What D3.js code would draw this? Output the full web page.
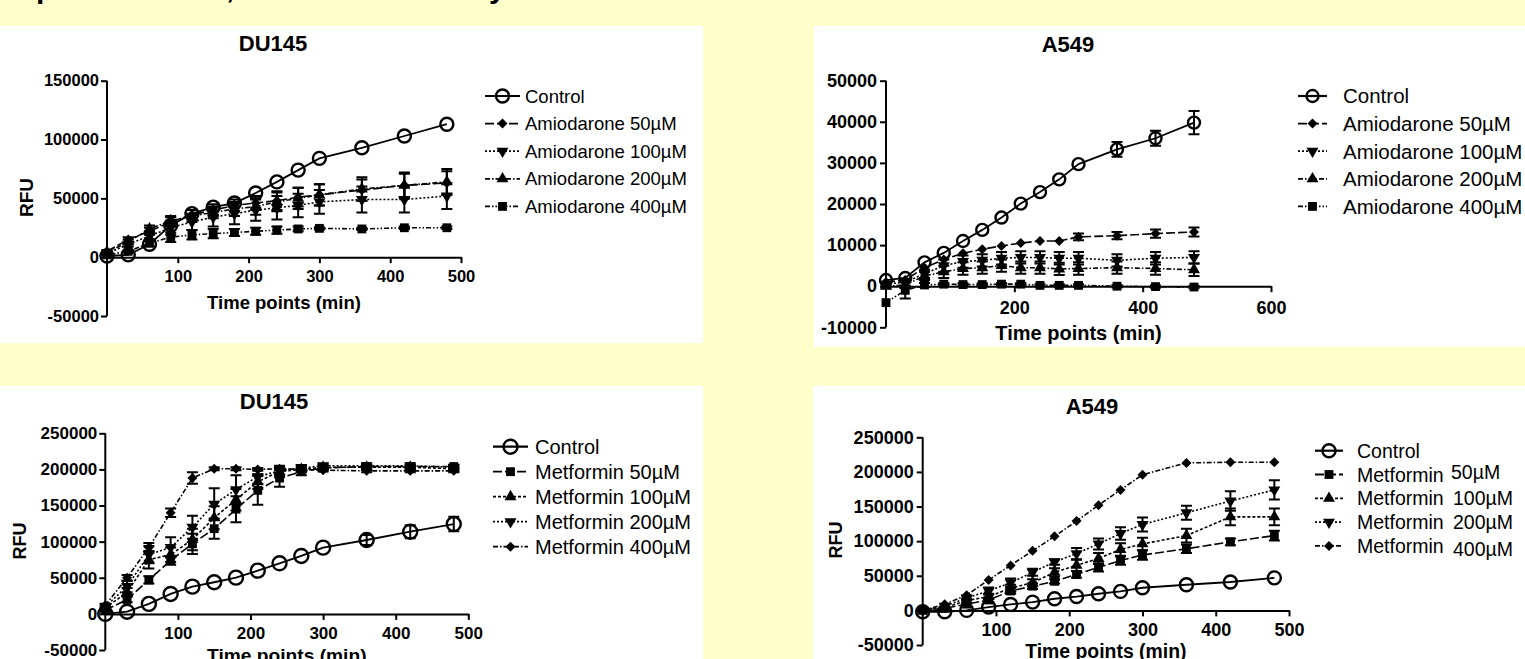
<!DOCTYPE html>
<html>
<head>
<meta charset="utf-8">
<script src="https://cdn.jsdelivr.net/npm/d3@7"></script>
<style>
    body { margin: 0; background: #ffffcc; overflow: hidden; }
    svg text { font-family: "Liberation Sans", Arial, sans-serif; fill: #000; }
</style>
</head>
<body>
<svg id="fig" width="1525" height="659"></svg>
<script>
"use strict";

//Sampling times (min), shared by every series
var times = [0, 30, 60, 90, 120, 150, 180, 210, 240, 270, 300, 360, 420, 480];

//DU145 + amiodarone
var duAmioCtrl = [1000, 2000, 11000, 27000, 37000, 42500, 46000, 54500, 64000, 74000, 84000, 93000, 103000, 113000];
var duAmio50   = [5000, 15000, 22000, 30000, 36000, 40000, 44000, 46000, 48000, 51000, 53000, 57000, 61000, 63000];
var duAmio100  = [3000, 11000, 18000, 25000, 30000, 34000, 37000, 40000, 42000, 44000, 47000, 49000, 49000, 52000];
var duAmio200  = [4000, 13000, 24000, 31000, 35000, 38000, 41000, 43000, 47000, 50000, 53000, 58000, 61000, 64000];
var duAmio400  = [2000, 5000, 12000, 17000, 19000, 20000, 21000, 22000, 23000, 24000, 24500, 24000, 25000, 25000];
var duAmioCtrlErr = [0, 0, 0, 0, 0, 0, 0, 0, 0, 0, 0, 0, 0, 0];
var duAmio50Err   = [1000, 2000, 3000, 4000, 4000, 5000, 5000, 6000, 8000, 8000, 9000, 9000, 10000, 10000];
var duAmio100Err  = [1000, 2000, 4000, 6000, 7000, 8000, 9000, 9000, 10000, 10000, 10000, 11000, 11000, 11000];
var duAmio200Err  = [1000, 2000, 3000, 4000, 5000, 5000, 6000, 7000, 8000, 9000, 9000, 10000, 11000, 11000];
var duAmio400Err  = [500, 1000, 3000, 4000, 4000, 4000, 3000, 3000, 3000, 2000, 1000, 1000, 1000, 1000];

//A549 + amiodarone
var aAmioCtrl = [1500, 2000, 5800, 8100, 11000, 13700, 16700, 20100, 22900, 26000, 29700, 33300, 36000, 39800];
var aAmio50   = [1000, 1500, 4500, 6500, 8000, 9000, 9800, 10500, 11000, 11000, 12000, 12300, 12800, 13200];
var aAmio100  = [500, 1000, 3000, 5000, 6000, 6300, 6800, 7000, 7000, 6800, 6800, 6300, 6800, 7000];
var aAmio200  = [0, 300, 2500, 3500, 4300, 4500, 5000, 4500, 4500, 4200, 4300, 4500, 4300, 4000];
var aAmio400  = [-4000, -1000, 300, 500, 400, 400, 500, 500, 200, 200, 200, 0, -100, -200];
var aAmioCtrlErr = [0, 0, 0, 0, 0, 0, 0, 0, 0, 0, 0, 1800, 1800, 2800];
var aAmio50Err   = [0, 0, 0, 0, 0, 0, 0, 0, 0, 0, 800, 900, 1000, 1100];
var aAmio100Err  = [500, 800, 1000, 1500, 1500, 1500, 1500, 1500, 1500, 1500, 1500, 1500, 1500, 1500];
var aAmio200Err  = [500, 800, 1000, 1500, 1500, 1500, 1500, 1500, 1500, 1500, 1500, 1500, 1500, 1500];
var aAmio400Err  = [0, 2000, 500, 300, 300, 300, 300, 300, 300, 300, 300, 300, 300, 300];

//DU145 + metformin
var duMetCtrl = [0, 3000, 13800, 27600, 37800, 43800, 50200, 59900, 70000, 80200, 91700, 102300, 113800, 124400];
var duMet50   = [5000, 20000, 47000, 74000, 97000, 118000, 145000, 171000, 188000, 197000, 202000, 204000, 204000, 204000];
var duMet100  = [8000, 30000, 75000, 82000, 103000, 133000, 158000, 183000, 197000, 200000, 203000, 203000, 203000, 201000];
var duMet200  = [10000, 38000, 82000, 92000, 120000, 152000, 172000, 190000, 198000, 202000, 205000, 205000, 205000, 203000];
var duMet400  = [12000, 50000, 92000, 140000, 188000, 201000, 201000, 200000, 201000, 200000, 199000, 198000, 198000, 198000];
var duMetCtrlErr = [0, 0, 0, 0, 0, 0, 0, 0, 0, 0, 0, 7000, 9000, 10000];
var duMet50Err   = [2000, 4000, 5000, 6000, 14000, 14000, 18000, 20000, 12000, 5000, 3000, 2000, 2000, 2000];
var duMet100Err  = [2000, 6000, 12000, 10000, 15000, 16000, 15000, 10000, 8000, 4000, 3000, 2000, 2000, 2000];
var duMet200Err  = [2000, 8000, 12000, 14000, 16000, 22000, 20000, 10000, 6000, 4000, 3000, 2000, 2000, 2000];
var duMet400Err  = [2000, 4000, 6000, 6000, 8000, 2000, 2000, 2000, 2000, 2000, 2000, 2000, 2000, 2000];

//A549 + metformin
var aMetCtrl = [-2000, -2000, 0, 4800, 8600, 12000, 16800, 20000, 24000, 27400, 32700, 37000, 41000, 47000];
var aMet50   = [0, 3000, 9000, 15000, 28000, 35000, 42000, 52000, 62000, 72000, 80000, 89000, 99000, 108000];
var aMet100  = [0, 4000, 14000, 20000, 32000, 40000, 55000, 65000, 75000, 88000, 96000, 108000, 135000, 135000];
var aMet200  = [0, 6000, 18000, 28000, 40000, 55000, 70000, 82000, 96000, 111000, 124000, 141000, 158000, 174000];
var aMet400  = [0, 9000, 22000, 44000, 65000, 86000, 107000, 129000, 152000, 174000, 196000, 213000, 214000, 214000];
var aMetCtrlErr = [0, 0, 0, 0, 0, 0, 0, 0, 0, 0, 0, 0, 0, 0];
var aMet50Err   = [0, 0, 2000, 3000, 4000, 4000, 3000, 5000, 6000, 6000, 7000, 6000, 5000, 7000];
var aMet100Err  = [0, 0, 3000, 4000, 5000, 5000, 6000, 8000, 8000, 9000, 9000, 10000, 12000, 12000];
var aMet200Err  = [0, 0, 3000, 5000, 6000, 5000, 4000, 8000, 8000, 9000, 10000, 10000, 14000, 14000];
var aMet400Err  = [0, 0, 0, 0, 0, 0, 0, 0, 0, 0, 0, 0, 0, 0];

//Legend labels and axis ticks
var amioLabels = ["Control", "Amiodarone 50µM", "Amiodarone 100µM", "Amiodarone 200µM", "Amiodarone 400µM"];
var metLabels = ["Control", "Metformin 50µM", "Metformin 100µM", "Metformin 200µM", "Metformin 400µM"];
var yTicksDuAmio = [-50000, 0, 50000, 100000, 150000];
var yTicksAAmio = [-10000, 0, 10000, 20000, 30000, 40000, 50000];
var yTicksMet = [-50000, 0, 50000, 100000, 150000, 200000, 250000];
var xTicks500 = [100, 200, 300, 400, 500];
var xTicks600 = [200, 400, 600];

//Marker + dash style for each series
var amioStyles = [
    {shape: "circle", dash: null},
    {shape: "diamond", dash: "9,3"},
    {shape: "down", dash: "2,2"},
    {shape: "up", dash: "5,2,1.5,2"},
    {shape: "square", dash: "5,2,1.5,2,1.5,2"}
];
var metStyles = [
    {shape: "circle", dash: null},
    {shape: "square", dash: "9,3"},
    {shape: "up", dash: "3,2"},
    {shape: "down", dash: "2,2"},
    {shape: "diamond", dash: "5,2,1.5,2"}
];

var svg = d3.select("#fig");

//Cut-off caption at the very top (only the descenders show)
svg.append("text")
    .attr("y", -2)
    .style("font-size", "30px")
    .style("font-weight", "bold")
    .call(function (t) {
        t.append("tspan").attr("x", 36).text("p");
        t.append("tspan").attr("x", 226).text(",");
        t.append("tspan").attr("x", 489).text("y");
    });

//Layout of the four panels (page pixels)
var panels = [
    {
        box: [0, 26, 703, 317], title: "DU145", titleX: 273, titleY: 51,
        x: [107, 461], y: [316, 80.7], xMax: 500, yDomain: [-50000, 150000],
        xTicks: xTicks500, yTicks: yTicksDuAmio, tickFont: 16.5, xPad: 7, yPad: 2,
        xTitleY: 308.5, axisFont: 18.5, rfu: [32.5, 197.5], rfuFont: 19,
        series: [duAmioCtrl, duAmio50, duAmio100, duAmio200, duAmio400],
        errors: [duAmioCtrlErr, duAmio50Err, duAmio100Err, duAmio200Err, duAmio400Err],
        styles: amioStyles, labels: amioLabels, r: 6.5,
        legend: {x0: 485, x1: 520, tx: 525, y0: 96, dy: 27.6, font: 18.5}
    },
    {
        box: [814, 26, 711, 321], title: "A549", titleX: 1068, titleY: 52,
        x: [886, 1271], y: [327.3, 80.7], xMax: 600, yDomain: [-10000, 50000],
        xTicks: xTicks600, yTicks: yTicksAAmio, tickFont: 18, xPad: 9, yPad: 3,
        xTitleY: 339.5, axisFont: 20, rfu: null,
        series: [aAmioCtrl, aAmio50, aAmio100, aAmio200, aAmio400],
        errors: [aAmioCtrlErr, aAmio50Err, aAmio100Err, aAmio200Err, aAmio400Err],
        styles: amioStyles, labels: amioLabels, r: 6,
        legend: {x0: 1298, x1: 1327, tx: 1343, y0: 96, dy: 27.6, font: 20.5}
    },
    {
        box: [0, 386, 703, 273], title: "DU145", titleX: 274, titleY: 408.5,
        x: [105.3, 468.3], y: [650, 433.3], xMax: 500, yDomain: [-50000, 250000],
        xTicks: xTicks500, yTicks: yTicksMet, tickFont: 17, xPad: 7, yPad: 2,
        xTitleY: 662, axisFont: 19.2, rfu: [26, 541], rfuFont: 18,
        series: [duMetCtrl, duMet50, duMet100, duMet200, duMet400],
        errors: [duMetCtrlErr, duMet50Err, duMet100Err, duMet200Err, duMet400Err],
        styles: metStyles, labels: metLabels, r: 7,
        legend: {x0: 493, x1: 528, tx: 535, y0: 446.7, dy: 25, font: 20}
    },
    {
        box: [813, 386, 712, 273], title: "A549", titleX: 1092, titleY: 413.5,
        x: [922.7, 1289], y: [645, 437.3], xMax: 500, yDomain: [-50000, 250000],
        xTicks: xTicks500, yTicks: yTicksMet, tickFont: 18, xPad: 7, yPad: 3,
        xTitleY: 657.5, axisFont: 19.4, rfu: [841.5, 540], rfuFont: 18,
        series: [aMetCtrl, aMet50, aMet100, aMet200, aMet400],
        errors: [aMetCtrlErr, aMet50Err, aMet100Err, aMet200Err, aMet400Err],
        styles: metStyles, labels: metLabels, r: 6.5,
        legend: {x0: 1315, x1: 1343, tx: 1357, y0: 450.7, dy: 23.8, font: 19.5, splitX: 1453}
    }
];

//Build marker path for the filled symbols
function markerPath(shape) {
    if (shape === "square") return d3.symbol(d3.symbolSquare, 78)();
    if (shape === "diamond") return d3.symbol(d3.symbolSquare, 50)();
    return d3.symbol(d3.symbolTriangle, 62)();
}
function markerRotate(shape) {
    if (shape === "diamond") return 45;
    if (shape === "down") return 180;
    return 0;
}

function drawMarker(sel, shape, cx, cy, r) {
    if (shape === "circle") {
        sel.append("circle")
            .attr("cx", cx).attr("cy", cy).attr("r", r)
            .attr("fill", "none").attr("stroke", "#000").attr("stroke-width", 2.4);
    } else {
        sel.append("path")
            .attr("d", markerPath(shape))
            .attr("transform", "translate(" + cx + "," + cy + ") rotate(" + markerRotate(shape) + ")")
            .attr("fill", "#000");
    }
}

function drawPanel(p) {
    var g = svg.append("g");

    //white card
    g.append("rect")
        .attr("x", p.box[0]).attr("y", p.box[1])
        .attr("width", p.box[2]).attr("height", p.box[3])
        .attr("fill", "#fff");

    var x = d3.scaleLinear().domain([0, p.xMax]).range(p.x);
    var y = d3.scaleLinear().domain(p.yDomain).range(p.y);

    //axes
    var yAxis = d3.axisLeft(y).tickValues(p.yTicks).tickSize(6).tickSizeOuter(0)
        .tickPadding(p.yPad).tickFormat(function (d) { return String(d); });
    var xAxis = d3.axisBottom(x).tickValues(p.xTicks).tickSize(6).tickSizeOuter(0)
        .tickPadding(p.xPad).tickFormat(function (d) { return String(d); });

    var ya = g.append("g").attr("transform", "translate(" + p.x[0] + ",0)").call(yAxis);
    var xa = g.append("g").attr("transform", "translate(0," + y(0) + ")").call(xAxis);
    [ya, xa].forEach(function (a) {
        a.selectAll("path, line").attr("stroke", "#000").attr("stroke-width", 2);
        a.selectAll("text")
            .style("font-size", p.tickFont + "px")
            .style("font-weight", "bold")
            .attr("fill", "#000");
    });
    ya.selectAll(".domain").attr("d", "M0," + y.range()[0] + "V" + y.range()[1]);

    //titles
    g.append("text")
        .attr("x", p.titleX).attr("y", p.titleY)
        .attr("text-anchor", "middle")
        .style("font-size", "22px").style("font-weight", "bold")
        .text(p.title);
    g.append("text")
        .attr("x", (p.x[0] + p.x[1]) / 2).attr("y", p.xTitleY)
        .attr("text-anchor", "middle")
        .style("font-size", p.axisFont + "px").style("font-weight", "bold")
        .text("Time points (min)");
    if (p.rfu) {
        g.append("text")
            .attr("transform", "translate(" + p.rfu[0] + "," + p.rfu[1] + ") rotate(-90)")
            .attr("text-anchor", "middle")
            .style("font-size", p.rfuFont + "px").style("font-weight", "bold")
            .text("RFU");
    }

    var line = d3.line()
        .x(function (d) { return x(d[0]); })
        .y(function (d) { return y(d[1]); });

    p.series.forEach(function (vals, i) {
        var st = p.styles[i],
            err = p.errors[i],
            pts = times.map(function (t, k) { return [t, vals[k], err[k]]; });
        var sg = g.append("g");

        //error bars (mean +/- error)
        pts.forEach(function (d) {
            if (!d[2]) return;
            var cx = x(d[0]), t = y(d[1] + d[2]), b = y(d[1] - d[2]);
            sg.append("path")
                .attr("d", "M" + cx + "," + t + "V" + b + "M" + (cx - 5.5) + "," + t + "H" + (cx + 5.5) +
                    "M" + (cx - 5.5) + "," + b + "H" + (cx + 5.5))
                .attr("stroke", "#000").attr("stroke-width", 2).attr("fill", "none");
        });

        sg.append("path")
            .datum(pts)
            .attr("d", line)
            .attr("fill", "none")
            .attr("stroke", "#000")
            .attr("stroke-width", st.shape === "circle" ? 1.8 : 1.6)
            .attr("stroke-dasharray", st.dash);

        pts.forEach(function (d) {
            drawMarker(sg, st.shape, x(d[0]), y(d[1]), p.r);
        });
    });

    //legend
    var L = p.legend;
    p.labels.forEach(function (lab, i) {
        var st = p.styles[i],
            cy = L.y0 + i * L.dy,
            lg = g.append("g");
        lg.append("line")
            .attr("x1", L.x0).attr("x2", L.x1).attr("y1", cy).attr("y2", cy)
            .attr("stroke", "#000").attr("stroke-width", st.shape === "circle" ? 2.2 : 1.8)
            .attr("stroke-dasharray", st.dash);
        drawMarker(lg, st.shape, (L.x0 + L.x1) / 2, cy, p.r);
        if (L.splitX && lab.indexOf(" ") > 0) {
            var parts = lab.split(" ");
            lg.append("text").attr("x", L.tx).attr("y", cy).attr("dy", "0.36em")
                .style("font-size", L.font + "px").text(parts[0]);
            lg.append("text").attr("x", L.splitX + (i === 1 ? -2 : 0))
                .attr("y", cy + (i === 1 ? -3 : (i === 4 ? 3 : 0))).attr("dy", "0.36em")
                .style("font-size", L.font + "px").text(parts[1]);
        } else {
            lg.append("text").attr("x", L.tx).attr("y", cy).attr("dy", "0.36em")
                .style("font-size", L.font + "px").text(lab);
        }
    });
}

panels.forEach(drawPanel);
</script>
</body>
</html>
